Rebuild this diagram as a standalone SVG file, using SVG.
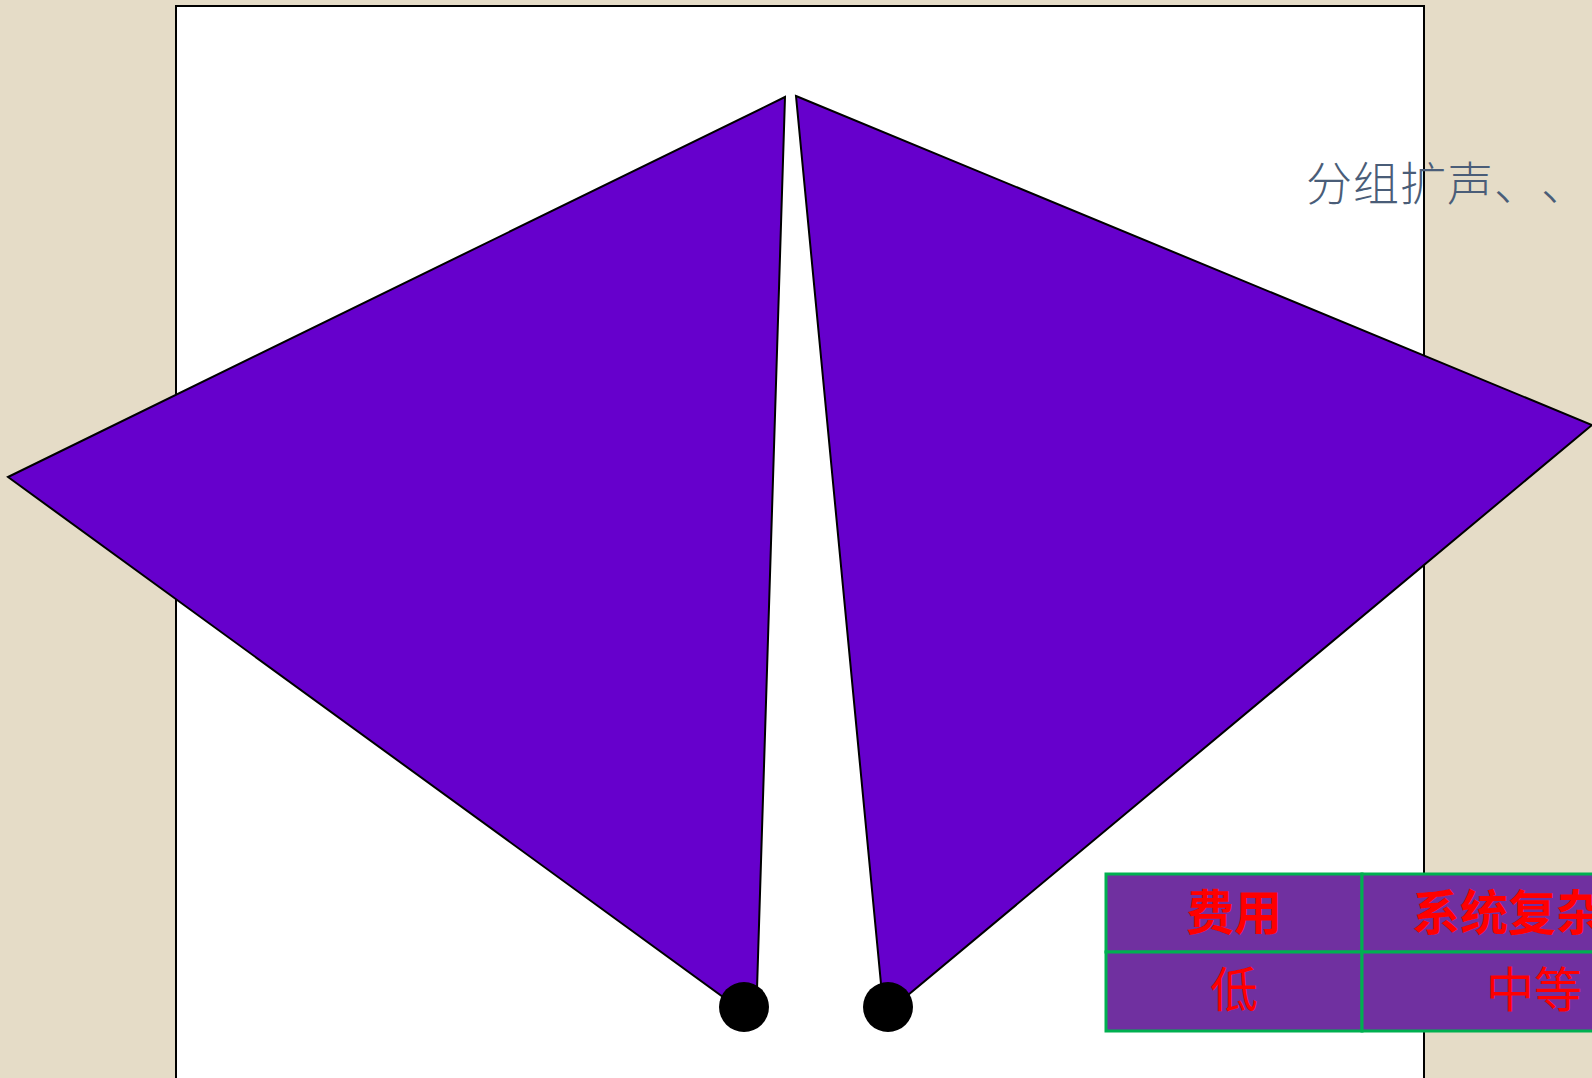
<svg xmlns="http://www.w3.org/2000/svg" width="1592" height="1078" viewBox="0 0 1592 1078">
<defs>
<style>
.bg{fill:#E5DCC7}
.panel{fill:#FFFFFF;stroke:#000000;stroke-width:2}
.tri{fill:#6600CC;stroke:#000000;stroke-width:2;stroke-linejoin:miter}
.dot{fill:#000000}
.cell{fill:#7030A0;stroke:#00B050;stroke-width:3}
.th{font-family:"Noto Sans CJK SC","Liberation Serif",serif;font-size:48px;font-weight:bold;fill:#FF0000}
.td{font-family:"Noto Sans CJK SC","Liberation Serif",serif;font-size:48px;fill:#FF0000}
.note{font-family:"Noto Sans CJK SC","Liberation Sans",sans-serif;font-size:46px;font-weight:300;fill:#4A5D78}
</style>
</defs>
<rect class="bg" x="0" y="0" width="1592" height="1078"/>
<rect class="panel" x="176" y="6" width="1248" height="1090"/>
<g id="note">
<text class="note" x="1306 1353 1400 1447 1494 1541" y="200">分组扩声、、</text>
</g>
<g id="left-speaker">
<polygon class="tri" points="785,97 8,477 756,1021"/>
<circle class="dot" cx="744" cy="1007" r="25"/>
</g>
<g id="right-speaker">
<polygon class="tri" points="796,96 1592,425 884,1015"/>
<circle class="dot" cx="888" cy="1007" r="25"/>
</g>
<g id="table">
<rect class="cell" x="1106" y="874" width="256" height="78"/>
<rect class="cell" x="1362" y="874" width="260" height="78"/>
<rect class="cell" x="1106" y="952" width="256" height="79"/>
<rect class="cell" x="1362" y="952" width="260" height="79"/>
<text class="th" x="1234" y="930" text-anchor="middle">费用</text>
<text class="th" x="1412" y="930">系统复杂</text>
<text class="td" x="1234" y="1007" text-anchor="middle">低</text>
<text class="td" x="1486" y="1007">中等</text>
</g>
<g id="connectors"/>
</svg>
